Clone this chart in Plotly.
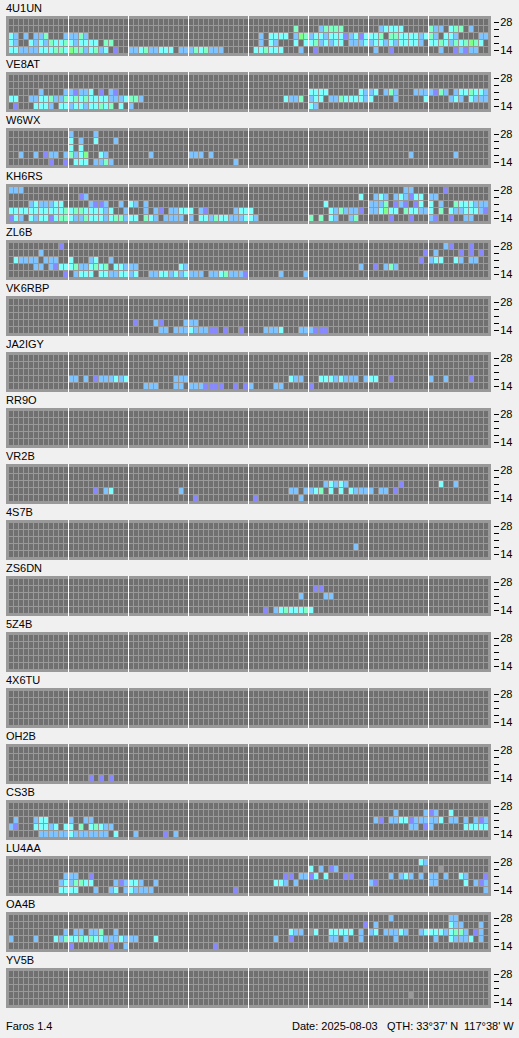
import plotly.graph_objects as go

# Bands, from the bottom row of each panel to the top one
BANDS = [14, 18, 21, 24, 28]
N_SLOTS = 96
SLOTS_PER_BLOCK = 12

# Signal levels found in the cells: slot number + level letter
LEVELS = {"S": 6, "P": 1, "B": 2, "C": 3, "M": 4, "G": 5}
LEVEL_COLORS = ["#707070", "#8888ff", "#80c4ff", "#80ffff", "#80ffc4", "#80ff88", "#999999"]

S_4U1UN = {
    24: "57M 62B 63M 64M 65M 66M 74B 75C 76C 77C 78C 84M 85B 86B 88C 89M 90M 92B",
    21: "0C 1B 3B 5B 6B 7M 11B 12B 13B 14M 15B 50B 52C 53C 54C 55C 57B 58G 59M 60B 61C 62C 63B 64C 65C 66C 67P 68B 69C 70P 71C 72C 73C 74M 76M 77M 78C 79C 80C 81C 82B 83C 84M 85B 87C 88C 89B 94B 95B",
    18: "0C 1B 4C 5B 6C 7B 8M 9C 10C 11M 12C 13B 14C 15C 16C 17C 19M 20M 50B 52C 53B 57C 59C 60C 61M 62B 63C 64B 65C 66C 68B 69B 70B 71C 72B 73C 74C 75B 76C 77B 78C 79C 80C 81C 82B 84C 85C 86M 87C 88B 89M 90C 91M 92G 93M 94C",
    14: "0C 1C 2B 3B 4B 5B 6C 7C 8C 9M 10M 11C 12G 13M 14M 15B 16C 17M 18B 19C 21P 24B 25B 26C 27M 28B 29B 30C 31C 32C 34B 35B 36B 37M 38C 39M 40B 41B 42B 49C 50C 51M 52C 53C 54C 58B 61P 73B 76P 86B 89P 90B 91P 92B 93B",
}
S_VE8AT = {
    21: "6B 11B 12B 13P 14B 15B 16C 18P 20B 21P 60C 61C 62C 63C 70C 71B 72B 73C 75B 76M 77B 81B 82B 83B 84B 85P 86M 87B 89B 90C 91C 92M 93C 94C 95B",
    18: "0C 1C 4B 5B 6C 7C 8M 9B 10B 11M 12C 13M 14C 15M 16C 17C 18C 19C 20B 21B 22B 23C 24M 25M 26B 55C 56B 57B 58M 60B 61C 62C 64B 65B 66M 67C 68C 69C 70C 71B 72C 77B 83C 88B 89C 90B 92C 93B 94B 95B",
    14: "1P 5C 6C 7C 8B 10C 11C 12B 13C 14C 15B 16C 17C 18M 19C 20M 22C 24B 60C 61B",
}
S_W6WX = {
    28: "12B 17B",
    24: "12C 14B 17C 21B",
    21: "12C 14C",
    18: "2B 5B 7P 8B 9B 11B 12M 13B 14C 15G 18C 19B 28B 36B 37B 38B 40B 80B 89B",
    14: "8P 11P 13C 14C 15C 17B 18B 19M 20B 45B",
}
S_KH6RS = {
    28: "0B 1B 2B 79B 80B 87P",
    24: "14P 15B 70C 73B 74C 75B 77B 78C 79B 80P 81C 82C 84B 85B",
    21: "4B 5C 6B 7B 8B 9C 10C 16B 17P 18P 19B 22B 24C 25B 27B 63C 72B 73B 74B 75M 77P 78B 79P 81P 82C 84C 86B 89M 90C 91C 92C 93B 94B 95B",
    18: "0C 1C 2C 3C 4C 5C 6C 7C 8C 9C 10C 11M 12C 13M 14M 15C 16C 17C 18C 19B 20C 23B 27B 29B 30P 32B 33B 34C 35C 36C 38B 39P 45B 46C 47C 48C 64C 65B 66M 67B 68B 69B 70P 72B 73B 74C 75G 76C 77C 79M 80C 81C 82B 83B 84C 86M 88C 89B 90B 91C 92C 93C 94B 95P",
    14: "0P 1C 2B 4C 5B 6C 7C 8P 9C 10M 11M 12C 13B 14B 15M 16C 17C 18C 19B 20C 21M 22M 23B 24C 25C 27M 28C 29B 31B 32B 33B 34B 36B 38C 39C 40B 41M 42C 43C 44B 45B 46B 47C 48C 49B 60M 62M 64C 65B 68B 69M 76P 80P 84B 85P 88P 91B 92B",
}
S_ZL6B = {
    28: "10P 87B 88P 92P",
    24: "6B 83P 85B 90P 92P 94P",
    21: "1C 2B 3B 4B 5B 7B 8B 9B 12C 16B 17C 20B 82P 84B 85C 86C 89C 90B 92B 93B",
    18: "5B 6B 8B 9P 10C 11C 12C 13M 14B 15B 16C 17M 18C 19M 21C 22C 23B 24B 25B 34C 35B 70B 73P 75B 76M 77B",
    14: "11P 13B 14C 15C 16C 18C 19C 20B 21B 22C 23C 24B 25C 28B 29B 30C 31C 32B 33C 34B 35C 36B 37B 38B 40B 41B 42C 43M 44B 45B 46B 47P 54B 59B",
}
S_VK6RBP = {
    18: "25P 29B 30P 35B 36B 37B",
    14: "30B 31B 33B 34B 35B 36C 37B 38B 39B 40P 41P 43P 46P 51B 52B 53B 54C 58B 59B 60B 61P 62P 63P",
}
S_JA2IGY = {
    18: "12B 13B 15B 17P 18B 19B 20B 21C 22B 23C 33B 34B 35B 56C 57B 58B 62C 63C 64C 65B 66C 67B 68B 69B 71B 72C 73C 76P 84B 87B 92P",
    14: "27B 28B 29B 33B 34B 36B 37B 38B 39P 40P 41P 42P 45P 47P 48B 53B 54B 60P",
}
S_RR9O = {}
S_VR2B = {
    21: "63B 64C 65B 66C 67B 78P 86C 89B",
    18: "17P 19B 20C 34B 56B 57B 59B 60B 61C 62M 64C 66C 68C 69B 70B 71B 72B 74B 75B 77P",
    14: "37P 49P 58B",
}
S_4S7B = {18: "69B"}
S_ZS6DN = {
    24: "61P 62P",
    21: "58B 63B 64B",
    14: "51P 53B 54C 55M 56C 57C 58C 59M 60C",
}
S_5Z4B = {}
S_4X6TU = {}
S_OH2B = {14: "16P 18P 20P"}
S_CS3B = {
    24: "77B 83B 84P 85B 88C",
    21: "1B 5B 6C 7C 12B 15B 16B 73B 74P 76B 77B 78C 79C 80P 81B 82B 83B 84B 85B 86C 88B 89B 91B 93B 94P 95B",
    18: "0B 1P 5C 6C 7C 8B 9C 11C 12C 14M 16C 17M 18C 19B 20B 80B 81B 83P 84B 91C 92C 93C 94C 95C",
    14: "6B 7B 8B 9B 10B 11B 12C 13B 14B 15B 16B 17B 18B 19B 21C 25B 31P 33B",
}
S_LU4AA = {
    28: "82C 83B",
    24: "60C 62B 64P 65B 83S 86S",
    21: "11B 12B 13B 16P 55P 56P 58B 59B 60P 61C 63C 67P 68P 76B 78B 79C 80B 82B 84B 85B 87B 90C 91B 95P",
    18: "10B 11C 12B 13M 14M 15C 16C 21B 22P 23B 24C 25C 26B 29B 53C 54C 55B 57B 72B 73P 84B 85B 91C 93B 94P 95B",
    14: "10C 11C 12C 13C 17B 20B 21C 23B 24C 25B 26B 27B 28B 45P 95B",
}
S_OA4B = {
    28: "76B 88B 89B",
    24: "71P 73B 88C 89B 90B 94B",
    21: "11B 13B 14B 16B 17B 18M 21B 56C 57B 58B 60S 61C 64C 65C 66C 67C 68C 70B 72B 73C 75B 76B 77B 78C 79B 82B 83C 84C 85C 86C 87B 88C 89M 90M 91B 93P 94B",
    18: "0B 5B 9C 10B 11M 12C 13C 14M 15C 16M 17C 18C 19B 20B 21B 22C 23B 24B 25B 29C 53B 56P 64B 65B 67B 70B 77B 85B 88C 89B 90B 91B 92C 94B",
    14: "12P 20P 23B 41P",
}
S_YV5B = {18: "80S"}

CALLS = ["4U1UN", "VE8AT", "W6WX", "KH6RS", "ZL6B", "VK6RBP", "JA2IGY", "RR9O", "VR2B",
         "4S7B", "ZS6DN", "5Z4B", "4X6TU", "OH2B", "CS3B", "LU4AA", "OA4B", "YV5B"]
SPOTS = [S_4U1UN, S_VE8AT, S_W6WX, S_KH6RS, S_ZL6B, S_VK6RBP, S_JA2IGY, S_RR9O, S_VR2B,
         S_4S7B, S_ZS6DN, S_5Z4B, S_4X6TU, S_OH2B, S_CS3B, S_LU4AA, S_OA4B, S_YV5B]
TICK_TEXT = ["14", "", "", "", "28"]
FOOTER_LEFT = "Faros 1.4"
FOOTER_DATE = "Date: 2025-08-03"
FOOTER_QTH = "QTH: 33°37' N"
FOOTER_LON = "117°38' W"

# Page geometry, in pixels
W, H = 519, 1038
PANEL_L, PANEL_R = 6, 491
PANEL_TOP, PANEL_H, PANEL_STEP = 16, 40, 56
AXIS_X = 493


def grid(spots):
    z = [[0] * N_SLOTS for _ in BANDS]
    for band, text in spots.items():
        for item in text.split():
            z[BANDS.index(band)][int(item[:-1])] = LEVELS[item[-1]]
    return z


n_lv = len(LEVEL_COLORS)
scale = []
for i, c in enumerate(LEVEL_COLORS):
    scale += [[i / n_lv, c], [(i + 1) / n_lv, c]]

fig = go.Figure()
layout = {}
shapes = []
notes = []
font = dict(family="Liberation Sans", size=11, color="#000000")

for i, (call, spots) in enumerate(zip(CALLS, SPOTS)):
    n = "" if i == 0 else str(i + 1)
    top = PANEL_TOP + i * PANEL_STEP
    fig.add_trace(go.Heatmap(
        z=grid(spots), x=list(range(N_SLOTS)), y=list(range(len(BANDS))),
        xaxis="x" + n, yaxis="y" + n, colorscale=scale, zmin=-0.5, zmax=n_lv - 0.5,
        showscale=False, xgap=1, ygap=1, hoverinfo="skip"))
    layout["xaxis" + n] = dict(
        domain=[PANEL_L / W, PANEL_R / W], range=[-1.1, 95.9], anchor="y" + n,
        showgrid=False, zeroline=False, showticklabels=False, ticks="", showline=False, fixedrange=True)
    layout["yaxis" + n] = dict(
        domain=[1 - (top + PANEL_H) / H, 1 - top / H], range=[-0.7857, 4.9286],
        anchor="free", position=AXIS_X / W, side="right",
        showgrid=False, zeroline=False, showline=False, fixedrange=True,
        tickmode="array", tickvals=list(range(len(BANDS))), ticktext=TICK_TEXT,
        ticks="outside", ticklen=5, tickwidth=1, tickcolor="#000000", tickfont=font,
        ticklabelstandoff=-1)
    for b in range(1, N_SLOTS // SLOTS_PER_BLOCK):
        xv = b * SLOTS_PER_BLOCK - 0.6
        shapes.append(dict(type="line", xref="x" + n, yref="y" + n + " domain", x0=xv, x1=xv, y0=0, y1=1,
                           line=dict(color="#ffffff", width=1), layer="above"))
    notes.append(dict(text=call, xref="paper", yref="paper", x=PANEL_L / W, y=1 - (top - 8) / H,
                      xanchor="left", yanchor="middle", showarrow=False, font=font, xshift=-2))

FOOT_Y = 1 - 1026 / H
for text, px in [(FOOTER_LEFT, 6), (FOOTER_DATE, 292), (FOOTER_QTH, 387), (FOOTER_LON, 464)]:
    notes.append(dict(text=text, xref="paper", yref="paper", x=px / W, y=FOOT_Y, xanchor="left",
                      yanchor="middle", showarrow=False, font=font, xshift=-2))

fig.update_layout(
    width=W, height=H, autosize=False, margin=dict(l=0, r=0, t=0, b=0, pad=0),
    paper_bgcolor="#f0f0f0", plot_bgcolor="#999999", showlegend=False,
    shapes=shapes, annotations=notes, **layout)

fig.write_html("out.html", config={"displayModeBar": False},
               post_script="document.body.style.margin='0';document.body.style.background='#f0f0f0';")
